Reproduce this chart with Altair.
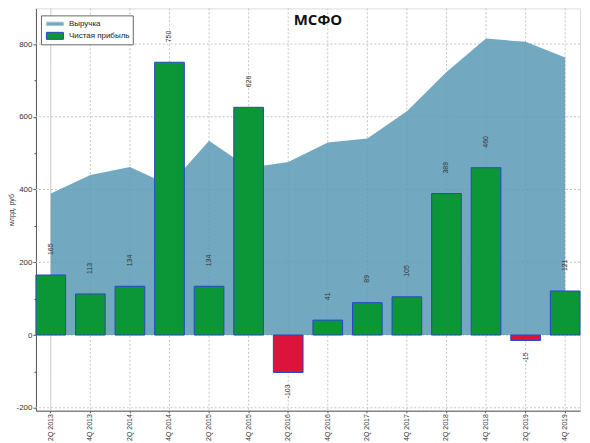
import altair as alt
import pandas as pd

categories = ["2Q 2013", "4Q 2013", "2Q 2014", "4Q 2014", "2Q 2015", "4Q 2015", "2Q 2016",
              "4Q 2016", "2Q 2017", "4Q 2017", "2Q 2018", "4Q 2018", "2Q 2019", "4Q 2019"]
revenue = [389, 440, 462, 412, 534, 460, 476, 529, 540, 615, 723, 815, 806, 763]
profit = [165, 113, 134, 750, 134, 626, -103, 41, 89, 105, 389, 460, -15, 121]

grid_values = [-200, 0, 200, 400, 600, 800]
y_tick_values = [-200, -150, -100, -50, 0, 50, 100, 150, 200, 250, 300, 350, 400, 450,
                 500, 550, 600, 650, 700, 750, 800, 850]
legend_names = ["Выручка", "Чистая прибыль"]

AREA_FILL = "#5a9ab5"   # drawn at 0.85 opacity over white -> ~#73a9c0
AREA_LEG = "#72a8bf"
GREEN = "#0b9637"
EDGE = "#2a44cc"
RED = "#dc143c"
FONT = "Liberation Sans"
YTITLE = "млрд. руб"

df = pd.DataFrame({"cat": categories, "revenue": revenue, "profit": profit})
grid_df = pd.DataFrame({"g": grid_values})
legend_df = pd.DataFrame({"name": legend_names})

x_scale = alt.Scale(paddingInner=0.25, paddingOuter=0)
y_scale = alt.Scale(domain=[-208, 898], nice=False)

x_axis = alt.Axis(labelAngle=270, labelFontSize=7, labelFont=FONT, labelColor="#333",
                  tickSize=2, tickColor="#555", domainColor="#555", grid=False,
                  labelPadding=1, bandPosition=0.5)
y_axis = alt.Axis(values=y_tick_values,
                  labelExpr="datum.value % 200 === 0 ? toString(datum.value) : ''",
                  tickSize={"condition": {"test": "datum.value % 200 === 0", "value": 3}, "value": 2},
                  grid=False, labelFontSize=8, labelFont=FONT, labelColor="#333",
                  tickColor="#555", domainColor="#555", labelPadding=1,
                  titleFont=FONT, titleFontSize=7, titleFontWeight="normal",
                  titleColor="#333", titlePadding=1)

X = alt.X("cat:N", sort=categories, title=None, scale=x_scale, axis=x_axis)

legend = alt.Legend(
    title=None, orient="none", legendX=5, legendY=7, padding=3, rowPadding=2,
    symbolSize=100, labelOffset=14, labelFont=FONT, labelFontSize=8, labelColor="#222",
    strokeColor="#666", fillColor="white", symbolOpacity=1, symbolStrokeWidth=1,
)

grid_h = alt.Chart(grid_df).mark_rule(color="#c4c4c4", strokeWidth=1, strokeDash=[2, 2]).encode(
    y=alt.Y("g:Q", scale=y_scale, axis=y_axis, title=YTITLE),
)

grid_v = alt.Chart(df).mark_rule(color="#c4c4c4", strokeWidth=1).encode(
    x=X,
    strokeDash=alt.condition(alt.datum.cat == categories[0], alt.value([1, 0]), alt.value([2, 2])),
)

area = alt.Chart(df).mark_area(color=AREA_FILL, opacity=0.85).encode(
    x=X,
    y=alt.Y("revenue:Q", title=YTITLE),
)

bars = alt.Chart(df).mark_bar(stroke=EDGE, strokeWidth=1).encode(
    x=X,
    y=alt.Y("profit:Q", title=YTITLE),
    fill=alt.condition("datum.profit < 0", alt.value(RED), alt.value(GREEN)),
)

text_pos = alt.Chart(df).transform_filter("datum.profit >= 0").transform_calculate(
    lab="toString(datum.profit)"
).mark_text(
    angle=270, align="left", baseline="middle", dx=20, fontSize=7, font=FONT, color="#333"
).encode(x=X, y=alt.Y("profit:Q", title=YTITLE), text=alt.Text("lab:N"))

text_neg = alt.Chart(df).transform_filter("datum.profit < 0").transform_calculate(
    lab="toString(datum.profit)"
).mark_text(
    angle=270, align="right", baseline="middle", dx=-12, fontSize=7, font=FONT, color="#333"
).encode(x=X, y=alt.Y("profit:Q", title=YTITLE), text=alt.Text("lab:N"))

legend_layer = alt.Chart(legend_df).mark_point(filled=True, opacity=0, size=100).encode(
    fill=alt.Fill("name:N", scale=alt.Scale(domain=legend_names, range=[AREA_LEG, GREEN]), legend=legend),
    stroke=alt.Stroke("name:N", scale=alt.Scale(domain=legend_names, range=["#a6cadb", EDGE]), legend=legend),
    shape=alt.Shape("name:N", scale=alt.Scale(domain=legend_names,
                                             range=["M-0.6,-0.35H2.8V0.35H-0.6Z", "M-0.6,-0.7H2.8V0.7H-0.6Z"]),
                    legend=legend),
)

chart = alt.layer(grid_h, grid_v, area, bars, text_pos, text_neg, legend_layer).properties(
    width=545, height=403,
    autosize=alt.AutoSizeParams(type="none"),
    padding={"left": 28, "top": 0, "right": 2, "bottom": 40},
    title=alt.TitleParams("МСФО", font="Open Sans", fontSize=15, fontWeight="bold",
                          color="#111", anchor="middle", dx=10, dy=24),
).configure_view(stroke=None).configure(background="white")

chart.save("out.html", embed_options={"renderer": "svg", "actions": False})
